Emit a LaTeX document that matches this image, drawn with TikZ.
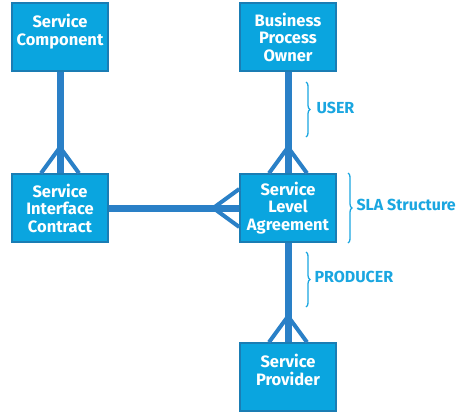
\documentclass[tikz,border=0pt]{standalone}
\usepackage{fontspec}
\setmainfont{Fira Sans}
\usetikzlibrary{calc, positioning, decorations.pathreplacing}

\definecolor{boxfill}{HTML}{0AA5DF}
\definecolor{boxedge}{HTML}{1A7DB4}
\definecolor{linkblue}{HTML}{2A80C7}
\definecolor{notecyan}{HTML}{1AA6E0}

\begin{document}
\begin{tikzpicture}
  [
    x=1pt, y=-1pt,
    entity/.style={rectangle, fill=boxfill, draw=boxedge, line width=1.5pt,
      minimum width=96pt, minimum height=68pt, align=center, inner sep=1pt,
      text=white, font=\fontsize{16.5}{17.5}\selectfont\bfseries},
    raised/.style={text depth=14pt},
    link/.style={draw=linkblue, line width=7pt},
    foot/.style={draw=linkblue, line width=4pt},
    note/.style={anchor=west, text=notecyan, font=\fontsize{16}{18}\selectfont\bfseries},
    bracket/.style={draw=notecyan, line width=1.3pt, decorate,
      decoration={brace, amplitude=4pt}}
  ]
  \useasboundingbox (0,0) rectangle (460,413);
  % entities
  \node [entity, raised] (comp) at (60,37) {Service\\Component};
  \node [entity] (owner) at (288,37) {Business\\Process\\Owner};
  \node [entity] (contract) at (60,208) {Service\\Interface\\Contract};
  \node [entity] (sla) at (288,208) {Service\\Level\\Agreement};
  \node [entity, raised] (provider) at (288,377) {Service\\Provider};
  % links
  \draw [link] (comp.south) -- (contract.north);
  \draw [link] (owner.south) -- (sla.north);
  \draw [link] (sla.south) -- (provider.north);
  \draw [link] (contract.east) -- (sla.west);
  % crow's feet
  \foreach \n in {contract, sla, provider} {
      \draw [foot] ($(\n.north)+(-19,0)$) -- ($(\n.north)+(0,-26)$) -- ($(\n.north)+(19,0)$);
  }
  \draw [foot] ($(sla.west)+(0,-19)$) -- ($(sla.west)+(-26,0)$) -- ($(sla.west)+(0,19)$);
  % braces
  \draw [bracket] (306,82) -- (306,137);
  \draw [bracket] (348,173) -- (348,243);
  \draw [bracket] (306,252) -- (306,307);
  \node [note] (user) at (313,108) {USER};
  \node [note] (slas) at (353,205) {SLA Structure};
  \node [note] (prod) at (311,277) {PRODUCER};
\end{tikzpicture}
\end{document}
